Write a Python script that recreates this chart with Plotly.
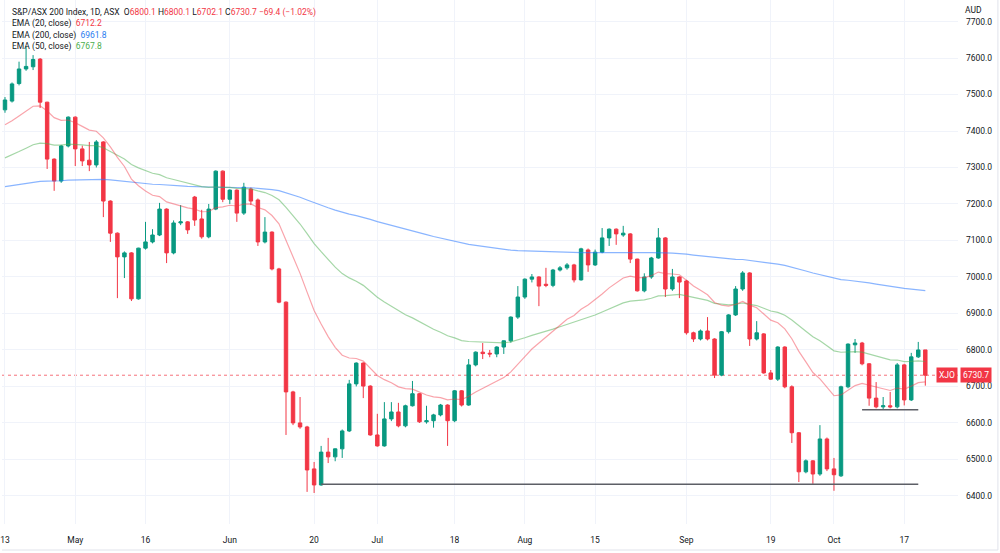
import pandas as pd
import plotly.graph_objects as go

# ---------------- data ----------------
HOLIDAYS = ["2022-04-15", "2022-04-18", "2022-04-25", "2022-06-13", "2022-09-22"]
dates = [d.strftime("%Y-%m-%d") for d in pd.bdate_range("2022-04-13", "2022-10-20")
         if d.strftime("%Y-%m-%d") not in HOLIDAYS]

opens = [7458, 7482, 7530, 7570, 7576, 7597, 7479, 7323, 7263, 7359,
         7438, 7351, 7320, 7307, 7370, 7208, 7120, 7055, 7066, 6940,
         7079, 7096, 7115, 7186, 7066, 7148, 7151, 7219, 7159, 7110,
         7186, 7290, 7213, 7238, 7175, 7241, 7211, 7096, 7123, 7022,
         6931, 6685, 6600, 6589, 6474, 6430, 6520, 6507, 6529, 6578,
         6707, 6764, 6701, 6567, 6537, 6611, 6630, 6592, 6647, 6680,
         6603, 6606, 6622, 6649, 6606, 6688, 6649, 6759, 6794, 6791,
         6789, 6808, 6825, 6890, 6945, 6994, 7000, 6980, 6977, 7019,
         7025, 7033, 6992, 7074, 7033, 7068, 7107, 7131, 7115, 7118,
         7049, 6962, 7000, 7052, 7107, 6967, 7000, 6989, 6847, 6830,
         6852, 6830, 6731, 6850, 6896, 6967, 7011, 6830, 6844, 6737,
         6720, 6808, 6699, 6573, 6466, 6496, 6460, 6556, 6474, 6455,
         6699, 6814, 6819, 6762, 6668, 6644, 6647, 6644, 6759, 6663,
         6781, 6800.1]
highs = [7493, 7533, 7590, 7632, 7608, 7600, 7480, 7325, 7362, 7440,
         7440, 7360, 7370, 7375, 7372, 7210, 7122, 7070, 7068, 7080,
         7151, 7131, 7203, 7188, 7155, 7197, 7153, 7222, 7184, 7200,
         7292, 7292, 7240, 7240, 7258, 7245, 7215, 7164, 7125, 7025,
         6933, 6688, 6671, 6592, 6493, 6537, 6559, 6530, 6582, 6718,
         6766, 6766, 6703, 6625, 6657, 6657, 6655, 6650, 6715, 6682,
         6647, 6625, 6652, 6651, 6690, 6690, 6775, 6796, 6819, 6800,
         6810, 6826, 6892, 6975, 6996, 7008, 7002, 7025, 7022, 7030,
         7038, 7036, 7080, 7078, 7075, 7134, 7133, 7133, 7140, 7120,
         7050, 7010, 7055, 7134, 7109, 7022, 7002, 6992, 6850, 6856,
         6890, 6832, 6852, 6898, 6975, 7016, 7013, 6879, 6846, 6745,
         6810, 6810, 6703, 6575, 6500, 6498, 6594, 6560, 6504, 6702,
         6818, 6830, 6822, 6764, 6712, 6671, 6685, 6764, 6762, 6792,
         6822, 6800.1]
lows = [7450, 7478, 7525, 7565, 7567, 7463, 7296, 7236, 7258, 7355,
        7304, 7304, 7290, 7300, 7164, 7096, 6942, 6997, 6934, 6938,
        7075, 7092, 7112, 7038, 7062, 7142, 7118, 7140, 7105, 7106,
        7183, 7205, 7200, 7151, 7170, 7197, 7085, 7092, 7018, 6928,
        6567, 6594, 6584, 6411, 6408, 6428, 6490, 6495, 6504, 6575,
        6700, 6668, 6565, 6535, 6535, 6605, 6588, 6588, 6645, 6600,
        6598, 6587, 6618, 6537, 6602, 6645, 6647, 6755, 6775, 6780,
        6780, 6789, 6820, 6885, 6940, 6985, 6920, 6972, 6972, 7015,
        7020, 6985, 6990, 7014, 7030, 7065, 7085, 7088, 7110, 7038,
        6960, 6958, 6995, 7050, 6945, 6962, 6942, 6842, 6822, 6826,
        6826, 6723, 6728, 6845, 6893, 6962, 6811, 6826, 6735, 6718,
        6715, 6695, 6545, 6438, 6462, 6433, 6455, 6468, 6414, 6452,
        6695, 6792, 6758, 6647, 6640, 6636, 6640, 6640, 6648, 6660,
        6778, 6702.1]
closes = [7485, 7529, 7570, 7577, 7596, 7479, 7323, 7263, 7359, 7438,
          7351, 7318, 7307, 7370, 7208, 7120, 7055, 7066, 6940, 7079,
          7096, 7115, 7186, 7066, 7148, 7151, 7129, 7156, 7110, 7186,
          7290, 7213, 7238, 7175, 7246, 7208, 7096, 7123, 7022, 6931,
          6685, 6600, 6589, 6471, 6430, 6520, 6507, 6529, 6578, 6707,
          6764, 6701, 6567, 6537, 6611, 6630, 6592, 6647, 6680, 6603,
          6606, 6622, 6649, 6606, 6688, 6649, 6759, 6794, 6790, 6789,
          6808, 6825, 6890, 6945, 6994, 7000, 6975, 6977, 7019, 7025,
          7033, 6992, 7077, 7033, 7068, 7107, 7131, 7118, 7120, 7049,
          6962, 7000, 7052, 7107, 6967, 7000, 6986, 6847, 6830, 6852,
          6830, 6731, 6850, 6896, 6967, 7011, 6830, 6847, 6737, 6720,
          6808, 6699, 6573, 6466, 6496, 6460, 6556, 6474, 6458, 6699,
          6816, 6819, 6762, 6668, 6644, 6647, 6644, 6759, 6663, 6781,
          6800, 6730.7]

# EMA values just before the first visible bar
EMA_PERIODS = [20, 200, 50]
EMA_SEEDS = {20: 7410, 50: 7320, 200: 7245}
EMA_LAST_TEXT = {20: "6712.2", 200: "6961.8", 50: "6767.8"}

# hand-drawn support lines: (level, start date, end date)
SUPPORT_LINES = [(6432, "2022-06-21", "2022-10-19"),
                 (6636, "2022-10-07", "2022-10-19")]

LAST_PRICE = 6730.7
HEADER_VALUES = ["6800.1", "6800.1", "6702.1", "6730.7", "−69.4 (−1.02%)"]

tick_dates = ["2022-04-13", "2022-05-02", "2022-05-16", "2022-06-01", "2022-06-20",
              "2022-07-01", "2022-07-18", "2022-08-01", "2022-08-15", "2022-09-01",
              "2022-09-19", "2022-10-03", "2022-10-17"]
tick_text = ["13", "May", "16", "Jun", "20", "Jul", "18", "Aug", "15", "Sep", "19", "Oct", "17"]
y_ticks = [6400, 6500, 6600, 6700, 6800, 6900, 7000, 7100, 7200, 7300, 7400, 7500, 7600, 7700]

# ---------------- style ----------------
UP = "#089981"
DOWN = "#f23645"
EMA_LINE = {20: "rgba(242,54,69,0.45)", 50: "rgba(76,175,80,0.5)", 200: "rgba(41,121,255,0.55)"}
EMA_TEXT = {20: "#f23645", 50: "#4caf50", 200: "#2a7cf0"}
FONT = "Roboto"
W, H = 1000, 553
PLOT_R = 958   # right edge of the pane in px
PLOT_B = 524   # bottom edge of the pane in px


def ema(values, period, seed):
    a = 2.0 / (period + 1)
    out, prev = [], seed
    for v in values:
        prev = a * v + (1 - a) * prev
        out.append(prev)
    return out


fig = go.Figure()

for p in [200, 50, 20]:
    fig.add_trace(go.Scatter(x=dates, y=ema(closes, p, EMA_SEEDS[p]), mode="lines",
                             line=dict(color=EMA_LINE[p], width=1.2), hoverinfo="skip"))

for lvl, d0, d1 in SUPPORT_LINES:
    fig.add_trace(go.Scatter(x=[d0, d1], y=[lvl, lvl], mode="lines",
                             line=dict(color="#5d5f66", width=1.6), hoverinfo="skip"))

fig.add_trace(go.Candlestick(
    x=dates, open=opens, high=highs, low=lows, close=closes,
    increasing=dict(line=dict(color=UP, width=1), fillcolor=UP),
    decreasing=dict(line=dict(color=DOWN, width=1), fillcolor=DOWN),
    whiskerwidth=0, hoverinfo="skip"))

# last price dotted line
fig.add_shape(type="line", xref="paper", x0=0, x1=1, yref="y", y0=LAST_PRICE, y1=LAST_PRICE,
              line=dict(color="rgba(242,54,69,0.7)", width=1, dash="dot"), layer="below")

n = len(dates)
x_left = -3.0 / 7.04
x_right = x_left + PLOT_R / 7.04

fig.update_layout(
    width=W, height=H,
    margin=dict(l=0, r=W - PLOT_R, t=0, b=H - PLOT_B),
    paper_bgcolor="white", plot_bgcolor="white",
    showlegend=False,
    font=dict(family=FONT, size=8.5, color="#131722"),
    xaxis=dict(type="category", range=[x_left, x_right], rangeslider=dict(visible=False),
               tickmode="array", tickvals=tick_dates, ticktext=tick_text,
               showgrid=True, gridcolor="#f0f3fa", gridwidth=1, zeroline=False,
               showline=False, ticks="", ticklabelstandoff=9,
               tickfont=dict(size=8.5, color="#131722")),
    yaxis=dict(side="right", range=[6323, 7759], tickmode="array", tickvals=y_ticks,
               ticktext=[f"{v:.1f}" for v in y_ticks],
               showgrid=True, gridcolor="#f0f3fa", gridwidth=1, zeroline=False,
               showline=False, ticks="", ticklabelstandoff=7,
               tickfont=dict(size=8.5, color="#131722")),
)

# header / legend texts
def px2paper_x(px):
    return px / PLOT_R


def px2paper_y(py):
    return 1 - py / PLOT_B


red_span = "<span style='color:%s'>%s</span>"
header = ("S&amp;P/ASX 200 Index, 1D, ASX&nbsp;&nbsp;O" + red_span % (DOWN, HEADER_VALUES[0]) +
          "&nbsp;H" + red_span % (DOWN, HEADER_VALUES[1]) +
          "&nbsp;L" + red_span % (DOWN, HEADER_VALUES[2]) +
          "&nbsp;C" + red_span % (DOWN, HEADER_VALUES[3]) +
          "&nbsp;" + red_span % (DOWN, HEADER_VALUES[4]))
rows = [header] + ["EMA (%d, close)&nbsp;&nbsp;" % p + red_span % (EMA_TEXT[p], EMA_LAST_TEXT[p])
                   for p in EMA_PERIODS]
row_y = [12.7, 24, 35.3, 46.3]
for txt, py in zip(rows, row_y):
    fig.add_annotation(text=txt, xref="paper", yref="paper", x=px2paper_x(8), y=px2paper_y(py),
                       xanchor="left", yanchor="middle", showarrow=False,
                       font=dict(family=FONT, size=8.5, color="#131722"))

# AUD label
fig.add_annotation(text="AUD", xref="paper", yref="paper", x=px2paper_x(963), y=px2paper_y(10),
                   xanchor="left", yanchor="middle", showarrow=False, bgcolor="white",
                   font=dict(family=FONT, size=8.5, color="#131722"))

# last price labels
fig.add_annotation(text="XJO", xref="paper", yref="y", x=px2paper_x(947), y=LAST_PRICE,
                   xanchor="center", yanchor="middle", showarrow=False, bgcolor=DOWN,
                   borderpad=2, font=dict(family=FONT, size=8.5, color="white"))
fig.add_annotation(text=f"{LAST_PRICE:.1f}", xref="paper", yref="y", x=px2paper_x(976), y=LAST_PRICE,
                   xanchor="center", yanchor="middle", showarrow=False, bgcolor=DOWN,
                   borderpad=2, font=dict(family=FONT, size=8.5, color="white"))

# frame lines
fig.add_shape(type="line", xref="paper", yref="paper", x0=0, x1=px2paper_x(998),
              y0=px2paper_y(550), y1=px2paper_y(550), line=dict(color="#e0e3eb", width=1))
fig.add_shape(type="line", xref="paper", yref="paper", x0=px2paper_x(998), x1=px2paper_x(998),
              y0=px2paper_y(0), y1=px2paper_y(550), line=dict(color="#e0e3eb", width=1))

fig.write_html("out.html")
